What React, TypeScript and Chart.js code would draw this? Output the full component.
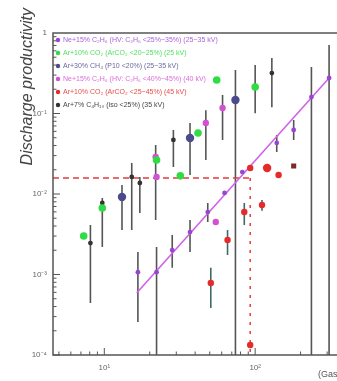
import React, { useEffect, useRef } from "react";
import { Chart, registerables } from "chart.js";

Chart.register(...registerables);

// ---- axis ranges & ticks ----
const xMin = 4.57;
const xMax = 479;
const yMin = 1e-4;
const yMax = 1;
const xTickValues = [10, 100];
const xTickLabels = ["10¹", "10²"];
const yTickValues = [1e-4, 1e-3, 1e-2, 1e-1, 1];
const yTickLabels = ["10⁻⁴", "10⁻³", "10⁻²", "10⁻¹", "1"];

// ---- series labels ----
const seriesLabels = [
  "Ne+15% C₂H₆ (HV: C₂H₆ <25%~35%) (25~35 kV)",
  "Ar+10% CO₂ (ArCO₂ <20~25%) (25 kV)",
  "Ar+30% CH₄ (P10 <20%) (25~35 kV)",
  "Ne+15% C₂H₆ (HV: C₂H₆ <40%~45%) (40 kV)",
  "Ar+10% CO₂ (ArCO₂ <25~45%) (45 kV)",
  "Ar+7% C₄H₁₀ (iso <25%) (35 kV)",
];

// series 1 (purple)
const s1X = [16.7, 22.2, 28.2, 37.0, 48.5, 62.7, 82.2, 139, 180, 236, 309];
const s1Y = [0.00107, 0.00107, 0.00201, 0.00337, 0.00597, 0.0103, 0.0187, 0.0431, 0.0624, 0.16, 0.276];
const s1Lo = [0.000257, 1e-5, 0.00121, 0.00191, 0.00449, null, null, 0.0333, 0.0469, 1e-5, 1e-5];
const s1Hi = [0.00191, 0.0022, 0.0031, 0.00475, 0.00773, null, null, 0.0541, 0.083, 0.379, 0.71];

// series 2 (green)
const s2X = [7.3, 9.7, 22.2, 31.9, 41.8, 55.6, 100];
const s2Y = [0.00301, 0.0067, 0.0264, 0.0168, 0.0573, 0.261, 0.213];
const s2Lo = [null, null, null, null, null, null, 0.101];
const s2Hi = [null, null, null, null, null, null, 0.4];

// series 3 (navy)
const s3X = [13.1, 37.0, 74.0];
const s3Y = [0.00918, 0.0497, 0.147];
const s3Lo = [0.00357, 0.0172, 1e-5];
const s3Hi = [0.0129, 0.0762, 0.347];

// series 4 (magenta)
const s4X = [21.9, 22.2, 47.1, 54.8, 60.8];
const s4Y = [0.0288, 0.0163, 0.0762, 0.00449, 0.117];
const s4Lo = [0.00475, null, 0.0264, null, 0.0469];
const s4Hi = [0.0406, null, 0.11, null, 0.17];

// series 5 (red)
const s5X = [50.8, 65.6, 84.7, 92.7, 111, 120, 143, 180, 92.7];
const s5Y = [0.000783, 0.00268, 0.00597, 0.021, 0.00729, 0.021, 0.0172, 0.0223, 0.000133];
const s5Lo = [0.000384, 0.00175, 0.00412, null, 0.0062, null, null, null, null];
const s5Hi = [0.00121, 0.00357, 0.00773, null, 0.0084, null, null, null, null];

// series 6 (black)
const s6X = [8.09, 9.7, 15.2, 17.2, 28.7, 129];
const s6Y = [0.00246, 0.00773, 0.0163, 0.0137, 0.0469, 0.318];
const s6Lo = [0.000442, 0.0022, 0.00357, 0.00581, 0.0216, 0.12];
const s6Hi = [0.00412, 0.00891, 0.0243, 0.0163, 0.0624, 0.489];

// power-law fit through series 1
const fitX = [16.4, 309];
const fitY = [0.000589, 0.276];

// threshold guide lines
const thrX = [xMin, 92.7];
const thrY = [0.0158, 0.0158];
const thrVX = [92.7, 92.7];
const thrVY = [0.0158, yMin];

const colors = ["#9a45d2", "#2fdc43", "#4b4b8c", "#d450d2", "#e52a2a", "#333333"];
const radii = [2.4, 3.8, 4.2, 3.2, 3.4, 2.4];

const pts = (xs: number[], ys: number[]) => xs.map((x, i) => ({ x, y: ys[i] }));

const errorBars = {
  id: "errorBars",
  beforeDatasetsDraw(chart: any) {
    const { ctx, chartArea, scales } = chart;
    const sx = scales.x;
    const sy = scales.y;
    ctx.save();
    ctx.beginPath();
    ctx.rect(chartArea.left, chartArea.top, chartArea.right - chartArea.left, chartArea.bottom - chartArea.top);
    ctx.clip();
    chart.data.datasets.forEach((ds: any) => {
      if (!ds.errLo) return;
      ctx.strokeStyle = ds.errColor;
      ctx.lineWidth = 1.6;
      ds.data.forEach((p: any, i: number) => {
        const lo = ds.errLo[i];
        const hi = ds.errHi[i];
        if (lo == null || hi == null) return;
        const px = sx.getPixelForValue(p.x);
        ctx.beginPath();
        ctx.moveTo(px, sy.getPixelForValue(lo));
        ctx.lineTo(px, sy.getPixelForValue(hi));
        ctx.stroke();
      });
    });
    ctx.restore();
  },
};

const frameAndTicks = {
  id: "frameAndTicks",
  afterDatasetsDraw(chart: any) {
    const { ctx, chartArea, scales } = chart;
    const sx = scales.x;
    const sy = scales.y;
    const { left, right, top, bottom } = chartArea;
    ctx.save();
    ctx.strokeStyle = "#555";
    ctx.lineWidth = 1.5;
    ctx.strokeRect(left, top, right - left, bottom - top);
    ctx.lineWidth = 1;
    // y ticks (inside, left axis)
    for (let e = -4; e < 0; e++) {
      for (let m = 1; m <= 9; m++) {
        const v = m * Math.pow(10, e);
        const py = sy.getPixelForValue(v);
        const len = m === 1 ? 7 : 3.5;
        ctx.beginPath();
        ctx.moveTo(left, py);
        ctx.lineTo(left + len, py);
        ctx.stroke();
      }
    }
    // x ticks (inside, bottom axis)
    for (let e = 0; e <= 2; e++) {
      for (let m = 1; m <= 9; m++) {
        const v = m * Math.pow(10, e);
        if (v < xMin || v > xMax) continue;
        const px = sx.getPixelForValue(v);
        const len = m === 1 ? 7 : 3.5;
        ctx.beginPath();
        ctx.moveTo(px, bottom);
        ctx.lineTo(px, bottom - len);
        ctx.stroke();
      }
    }
    ctx.restore();
  },
};

const legendAndTitles = {
  id: "legendAndTitles",
  afterDraw(chart: any) {
    const { ctx, chartArea } = chart;
    ctx.save();
    // legend inside the frame, top-left
    const x0 = chartArea.left + 5;
    const y0 = chartArea.top + 7;
    const step = 13;
    ctx.font = "7px 'Liberation Sans', Arial, sans-serif";
    ctx.textBaseline = "middle";
    ctx.textAlign = "left";
    seriesLabels.forEach((label, i) => {
      const y = y0 + i * step;
      ctx.fillStyle = colors[i];
      ctx.beginPath();
      ctx.arc(x0, y, 2.2, 0, Math.PI * 2);
      ctx.fill();
      ctx.fillStyle = i === 5 ? "#222" : colors[i];
      ctx.globalAlpha = 0.85;
      ctx.fillText(label, x0 + 5, y);
      ctx.globalAlpha = 1;
    });
    // y title
    ctx.fillStyle = "#444";
    ctx.font = "italic 16px 'Liberation Sans', Arial, sans-serif";
    ctx.translate(28, 8);
    ctx.rotate(-Math.PI / 2);
    ctx.textAlign = "right";
    ctx.textBaseline = "middle";
    ctx.fillText("Discharge productivity", 0, 0);
    ctx.restore();
    // x title
    ctx.save();
    ctx.fillStyle = "#555";
    ctx.font = "9px 'Liberation Sans', Arial, sans-serif";
    ctx.textAlign = "left";
    ctx.textBaseline = "middle";
    ctx.fillText("(Gas gain)", 318, 375);
    ctx.restore();
  },
};

export default function App() {
  const ref = useRef<HTMLCanvasElement | null>(null);

  useEffect(() => {
    if (!ref.current) return;
    const series = [
      [s1X, s1Y, s1Lo, s1Hi],
      [s2X, s2Y, s2Lo, s2Hi],
      [s3X, s3Y, s3Lo, s3Hi],
      [s4X, s4Y, s4Lo, s4Hi],
      [s5X, s5Y, s5Lo, s5Hi],
      [s6X, s6Y, s6Lo, s6Hi],
    ] as any[];
    const pointSets = series.map((s, i) => ({
      type: "scatter" as const,
      label: seriesLabels[i],
      data: pts(s[0], s[1]),
      errLo: s[2],
      errHi: s[3],
      errColor: i === 4 ? "#3f6868" : "#555555",
      backgroundColor: colors[i],
      borderColor: colors[i],
      pointRadius: i === 4 ? (ctx: any) => (ctx.dataIndex === 5 ? 4.2 : ctx.dataIndex === 7 ? 3.6 : 3.2) : radii[i],
      pointStyle: i === 4 ? (ctx: any) => (ctx.dataIndex === 7 ? "rect" : "circle") : "circle",
      pointBackgroundColor: i === 4 ? (ctx: any) => (ctx.dataIndex === 7 ? "#7a2a2a" : colors[4]) : colors[i],
      pointBorderWidth: 0,
      order: 1,
    }));
    const lineSets = [
      {
        type: "scatter" as const,
        label: "fit",
        data: pts(fitX, fitY),
        showLine: true,
        borderColor: "#cf62e8",
        borderWidth: 1.6,
        pointRadius: 0,
        order: 2,
      },
      {
        type: "scatter" as const,
        label: "threshold",
        data: pts(thrX, thrY),
        showLine: true,
        borderColor: "#e83a3a",
        borderWidth: 1.5,
        borderDash: [6, 4],
        pointRadius: 0,
        order: 3,
      },
      {
        type: "scatter" as const,
        label: "threshold-v",
        data: pts(thrVX, thrVY),
        showLine: true,
        borderColor: "#e83a3a",
        borderWidth: 1.5,
        borderDash: [3, 6],
        pointRadius: 0,
        order: 3,
      },
    ];

    const chart = new Chart(ref.current, {
      type: "scatter",
      data: { datasets: [...pointSets, ...lineSets] as any },
      options: {
        animation: false,
        responsive: false,
        maintainAspectRatio: false,
        layout: { padding: { top: 33, left: 0, right: 0, bottom: 0 } },
        plugins: { legend: { display: false }, tooltip: { enabled: false } },
        scales: {
          x: {
            type: "logarithmic",
            min: xMin,
            max: xMax,
            grid: { display: false, drawTicks: false },
            border: { display: false },
            afterBuildTicks: (s: any) => {
              s.ticks = xTickValues.map((v) => ({ value: v }));
            },
            afterFit: (s: any) => {
              s.height = 26;
            },
            ticks: {
              autoSkip: false,
              maxRotation: 0,
              padding: 8,
              color: "#666",
              font: { size: 8, family: "'Liberation Sans', Arial, sans-serif" },
              callback: (v: any) => {
                const i = xTickValues.indexOf(Number(v));
                return i >= 0 ? xTickLabels[i] : "";
              },
            },
          },
          y: {
            type: "logarithmic",
            min: yMin,
            max: yMax,
            grid: { display: false, drawTicks: false },
            border: { display: false },
            afterBuildTicks: (s: any) => {
              s.ticks = yTickValues.map((v) => ({ value: v }));
            },
            afterFit: (s: any) => {
              s.width = 53;
            },
            ticks: {
              autoSkip: false,
              padding: 6,
              color: "#666",
              font: { size: 8, family: "'Liberation Sans', Arial, sans-serif" },
              callback: (v: any) => {
                const i = yTickValues.findIndex((t) => Math.abs(t - Number(v)) / t < 1e-6);
                return i >= 0 ? yTickLabels[i] : "";
              },
            },
          },
        },
      },
      plugins: [errorBars, frameAndTicks, legendAndTitles],
    });
    return () => chart.destroy();
  }, []);

  return (
    <div style={{ position: "absolute", left: 0, top: 0, width: 337, height: 381, overflow: "hidden", background: "#fff" }}>
      <canvas ref={ref} width={362} height={381} style={{ display: "block" }} />
    </div>
  );
}
